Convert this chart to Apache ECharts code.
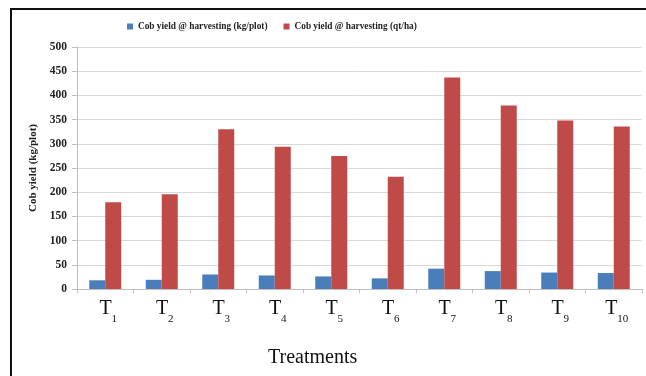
<!DOCTYPE html>
<html>
<head>
<meta charset="utf-8">
<script src="https://cdn.jsdelivr.net/npm/echarts@6/dist/echarts.min.js"></script>
<style>
  html, body { margin: 0; padding: 0; background: #fff; }
  #chart { width: 646px; height: 376px; }
</style>
</head>
<body>
<div id="chart"></div>
<script>
const categories = ["1", "2", "3", "4", "5", "6", "7", "8", "9", "10"];
const kgPerPlot = [18, 19, 30, 28, 26, 22, 42, 37, 34, 33];
const qtPerHa = [179, 196, 330, 294, 275, 232, 437, 379, 348, 336];
const yTicks = { min: 0, max: 500, interval: 50 };

const serif = "'Liberation Serif', 'DejaVu Serif', serif";
const chart = echarts.init(document.getElementById("chart"));

chart.setOption({
  animation: false,
  textStyle: { fontFamily: serif },
  legend: {
    top: 17,
    left: 122,
    itemWidth: 6,
    itemHeight: 6,
    itemGap: 16,
    icon: "rect",
    textStyle: { fontFamily: serif, fontWeight: "bold", fontSize: 9.3, color: "#222" },
    data: ["Cob yield @ harvesting (kg/plot)", "Cob yield @ harvesting (qt/ha)"],
  },
  grid: { left: 77, right: 4, top: 47, bottom: 87 },
  xAxis: {
    type: "category",
    data: categories,
    axisLine: { lineStyle: { color: "#bfbfbf" } },
    axisTick: { show: true, length: 4, lineStyle: { color: "#bfbfbf" } },
    axisLabel: {
      interval: 0,
      margin: 8,
      formatter: (v) => "{t|T}{s|" + v + "}",
      rich: {
        t: { fontFamily: serif, fontSize: 20, color: "#111", verticalAlign: "bottom", lineHeight: 22, padding: [0, 0, 0, 6] },
        s: { fontFamily: serif, fontSize: 11, color: "#111", verticalAlign: "bottom", lineHeight: 22, padding: [0, 0, -6, 0] },
      },
    },
  },
  yAxis: {
    type: "value",
    min: yTicks.min,
    max: yTicks.max,
    interval: yTicks.interval,
    name: "Cob yield (kg/plot)",
    nameLocation: "middle",
    nameGap: 37,
    nameTextStyle: { fontFamily: serif, fontWeight: "bold", fontSize: 11, color: "#222" },
    axisLine: { show: true, lineStyle: { color: "#bfbfbf" } },
    axisTick: { show: true, length: 5, lineStyle: { color: "#bfbfbf" } },
    axisLabel: { fontFamily: serif, fontWeight: "bold", fontSize: 11.5, color: "#222", margin: 10 },
    splitLine: { lineStyle: { color: "#d9d9d9" } },
  },
  series: [
    {
      name: "Cob yield @ harvesting (kg/plot)",
      type: "bar",
      barWidth: 16,
      barGap: "0%",
      itemStyle: { color: "#4a7ebb" },
      data: kgPerPlot,
    },
    {
      name: "Cob yield @ harvesting (qt/ha)",
      type: "bar",
      barWidth: 16,
      barGap: "0%",
      itemStyle: { color: "#be4b48" },
      data: qtPerHa,
    },
  ],
  graphic: [
    { type: "rect", shape: { x: 10, y: 8, width: 636, height: 2 }, style: { fill: "#111" } },
    { type: "rect", shape: { x: 10, y: 8, width: 2, height: 368 }, style: { fill: "#111" } },
    {
      type: "text",
      left: 268,
      top: 348,
      style: { text: "Treatments", font: "20px " + serif, fill: "#111" },
    },
  ],
});
</script>
</body>
</html>
